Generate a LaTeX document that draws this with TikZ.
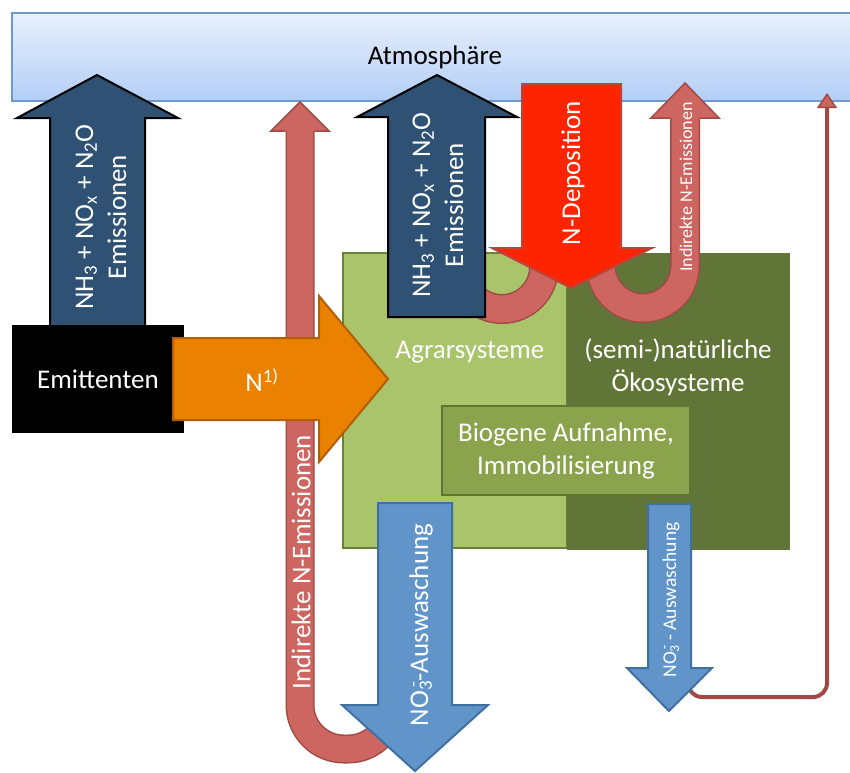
\documentclass[tikz,border=0pt]{standalone}
\usepackage{fontspec}
\setmainfont{Carlito}
\usetikzlibrary{arrows.meta}

\definecolor{atmotop}{HTML}{E8F0FC}
\definecolor{atmobot}{HTML}{B3CEF6}
\definecolor{atmoline}{HTML}{6E9AD2}
\definecolor{emiblue}{HTML}{2E5174}
\definecolor{orangefill}{HTML}{EA8100}
\definecolor{orangeline}{HTML}{B15E05}
\definecolor{redfill}{HTML}{CD6560}
\definecolor{redline}{HTML}{A14A45}
\definecolor{agrargreen}{HTML}{AAC46B}
\definecolor{agrarline}{HTML}{6A8238}
\definecolor{natgreen}{HTML}{627538}
\definecolor{biogreen}{HTML}{8BA34D}
\definecolor{bioline}{HTML}{5E7632}
\definecolor{depred}{HTML}{FF2400}
\definecolor{depline}{HTML}{B5463E}
\definecolor{nitblue}{HTML}{6195CA}
\definecolor{nitline}{HTML}{40709F}

\newcommand{\nitrat}{NO\rlap{\textsubscript{3}}\textsuperscript{\,-}}

\begin{document}
\begin{tikzpicture}[x=1pt, y=-1pt,
        txt/.style={text=white, font=\fontsize{27}{33}\selectfont, inner sep=0pt, align=center},
        smalltxt/.style={txt, font=\fontsize{18}{22}\selectfont},
        band/.style={draw=redline, line width=1.5pt, double=redfill, double distance=26pt, rounded corners=44pt},
        head/.style={fill=redfill, draw=redline, line width=1.5pt},
        emiarrow/.style={fill=emiblue, draw=black, line width=2pt},
        nitarrow/.style={fill=nitblue, draw=nitline, line width=2pt}]
    \useasboundingbox (0,0) rectangle (850,772);
    % Atmosphaere oben
    \node[top color=atmotop, bottom color=atmobot, draw=atmoline, line width=1.5pt,
          minimum width=846pt, minimum height=88pt, inner sep=0pt,
          font=\fontsize{27}{33}\selectfont] (atmo) at (435,57) {Atmosphäre};
    % indirekte Emissionen links (U-Bogen unter der Auswaschung)
    \draw[band] (392,700) -- (392,749) -- (300,749) -- (300,128);
    \filldraw[head] (314.5,131) -- (329,131) -- (300,102) -- (271,131) -- (285.5,131);
    \node[txt, rotate=90] (indirL) at (301,562) {Indirekte N-Emissionen};
    % Systeme
    \node[fill=agrargreen, draw=agrarline, line width=2pt, minimum width=224pt,
          minimum height=295pt, inner sep=0pt] (agrar) at (455,400.5) {};
    \node[fill=natgreen, minimum width=223pt, minimum height=297pt, inner sep=0pt]
          (natur) at (678.5,401.5) {};
    \draw[agrarline, line width=2pt] (567,253) -- (343,253) -- (343,548) -- (567,548);
    \node[txt] (agrarT) at (470,352) {Agrarsysteme};
    \node[txt] (naturT) at (678,367) {(semi-)natürliche\\Ökosysteme};
    \node[txt, fill=biogreen, draw=bioline, line width=2.5pt, minimum width=248pt,
          minimum height=89pt] (biogen) at (566,450.5) {Biogene Aufnahme,\\Immobilisierung};
    % U-Boegen an der Deposition
    \draw[band, double distance=27pt, rounded corners=42pt] (460,250) -- (460,309) -- (544,309) -- (544,250);
    \draw[band, double distance=27pt, rounded corners=42pt] (601,250) -- (601,308) -- (685,308) -- (685,116);
    \filldraw[head] (700,118) -- (719,118) -- (685,83) -- (651,118) -- (670,118);
    \node[smalltxt, rotate=90] (indirR) at (686,187) {Indirekte N-Emissionen};
    % Emissionen aus den Agrarsystemen
    \filldraw[emiarrow] (388,317) -- (388,117) -- (357,117) -- (437,75) -- (517,117)
        -- (485,117) -- (485,317) -- cycle;
    \node[txt, rotate=90] (emiM) at (438,205) {NH\textsubscript{3} + NO\textsubscript{x} + N\textsubscript{2}O\\Emissionen};
    % N-Deposition
    \filldraw[fill=depred, draw=depline, line width=2pt] (522,84) -- (621,84) -- (621,248)
        -- (652,248) -- (571,288) -- (492,248) -- (522,248) -- cycle;
    \node[txt, rotate=90] (depo) at (573,173) {N-Deposition};
    % Emittenten
    \filldraw[emiarrow] (50,333) -- (50,118) -- (17,118) -- (97,75) -- (178,118)
        -- (145,118) -- (145,333) -- cycle;
    \node[txt, rotate=90] (emiL) at (101,217) {NH\textsubscript{3} + NO\textsubscript{x} + N\textsubscript{2}O\\Emissionen};
    \node[txt, fill=black, minimum width=172pt, minimum height=108pt] (emitter) at (98,379) {Emittenten};
    \filldraw[fill=orangefill, draw=orangeline, line width=2pt] (173,338) -- (319,338) -- (319,296)
        -- (388,379) -- (319,462) -- (319,420) -- (173,420) -- cycle;
    \node[txt] (ntext) at (262,380) {N\textsuperscript{1)}};
    % Auswaschung
    \filldraw[nitarrow] (378,503) -- (452,503) -- (452,705) -- (488,705) -- (415,771)
        -- (342,705) -- (378,705) -- cycle;
    \node[txt, rotate=90] (nitL) at (421,625) {\nitrat-Auswaschung};
    \draw[redline, line width=4pt, rounded corners=14pt,
          -{Triangle[width=20pt, length=15pt, line width=1.5pt, fill=redfill]}]
        (688,670) -- (688,697) -- (827,697) -- (827,93);
    \filldraw[nitarrow] (648,504) -- (691,504) -- (691,668) -- (712,668) -- (669,711)
        -- (627,668) -- (648,668) -- cycle;
    \node[smalltxt, font=\fontsize{19.5}{23}\selectfont, rotate=90] (nitR) at (671,600) {\nitrat\ - Auswaschung};
\end{tikzpicture}
\end{document}
